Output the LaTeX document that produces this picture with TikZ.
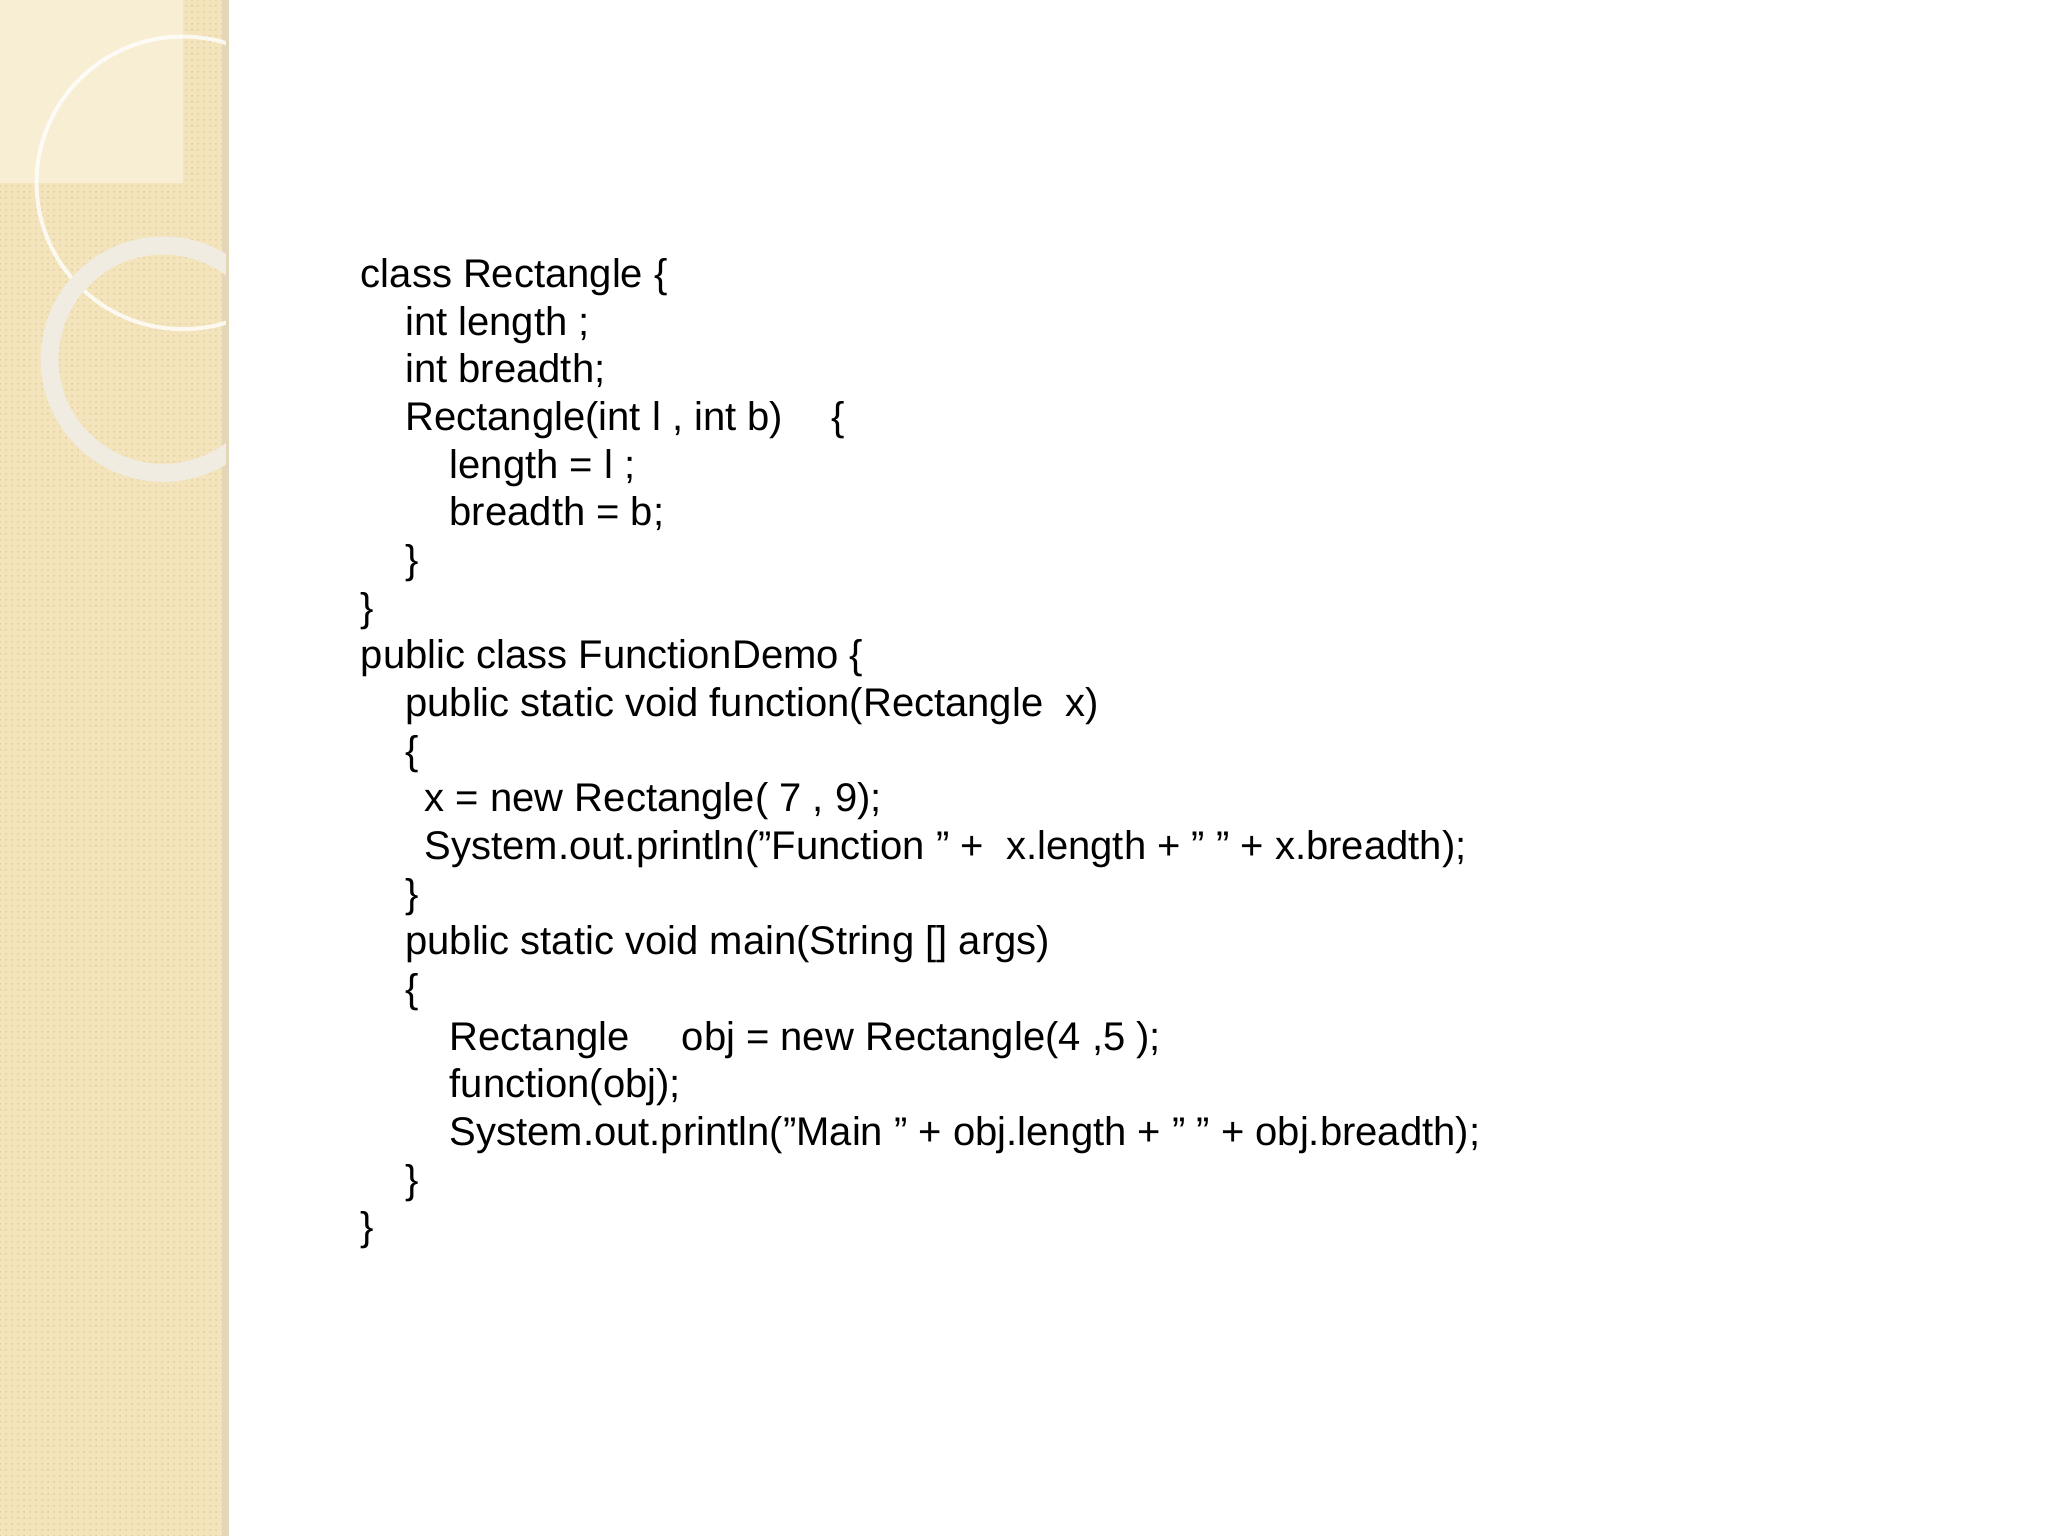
\documentclass[tikz,border=0pt]{standalone}
\usepackage{fontspec}
\setmainfont{Liberation Sans}
\usetikzlibrary{patterns}
\begin{document}
\begin{tikzpicture}[x=0.653pt,y=-0.653pt,
  code/.style={anchor=base west,inner sep=0pt,font=\fontsize{20}{24}\selectfont}]
\useasboundingbox (0,0) rectangle (1568,1176);
\fill[white] (0,0) rectangle (1568,1176);
\fill[color={rgb,255:red,243;green,228;blue,188}] (0,0) rectangle (173,1176);
\fill[pattern=dots,pattern color={rgb,255:red,225;green,205;blue,160}] (0,0) rectangle (173,1176);
\fill[color={rgb,255:red,248;green,238;blue,212}] (0,0) rectangle (140,140);
\fill[color={rgb,255:red,228;green,215;blue,185}] (170,0) rectangle (175,1176);
\begin{scope}
\clip (0,0) rectangle (173,1176);
\draw[white,line width=2pt,opacity=0.8] (140,140) circle (112);
\draw[color={rgb,255:red,240;green,236;blue,225},line width=9pt] (125,275) circle (87);
\end{scope}
\node[code] (l1) at (276,220) {class Rectangle \{};
\node[code] (l2) at (310,256.5) {int length ;};
\node[code] (l3) at (310,293) {int breadth;};
\node[code] (l4) at (310,329.5) {Rectangle(int l , int b)\hspace{1.2em}\{};
\node[code] (l5) at (344,366) {length = l ;};
\node[code] (l6) at (344,402.5) {breadth = b;};
\node[code] (l7) at (310,439) {\}};
\node[code] (l8) at (276,475.5) {\}};
\node[code] (l9) at (276,512) {public class FunctionDemo \{};
\node[code] (l10) at (310,548.5) {public static void function(Rectangle\ \ x)};
\node[code] (l11) at (310,585) {\{};
\node[code] (l12) at (325,621.5) {x = new Rectangle( 7 , 9);};
\node[code] (l13) at (325,658) {System.out.println("Function " +\ \ x.length + " " + x.breadth);};
\node[code] (l14) at (310,694.5) {\}};
\node[code] (l15) at (310,731) {public static void main(String [] args)};
\node[code] (l16) at (310,767.5) {\{};
\node[code] (l17) at (344,804) {Rectangle\hspace{1.3em}obj = new Rectangle(4 ,5 );};
\node[code] (l18) at (344,840.5) {function(obj);};
\node[code] (l19) at (344,877) {System.out.println("Main " + obj.length + " " + obj.breadth);};
\node[code] (l20) at (310,913.5) {\}};
\node[code] (l21) at (276,950) {\}};
\end{tikzpicture}
\end{document}
